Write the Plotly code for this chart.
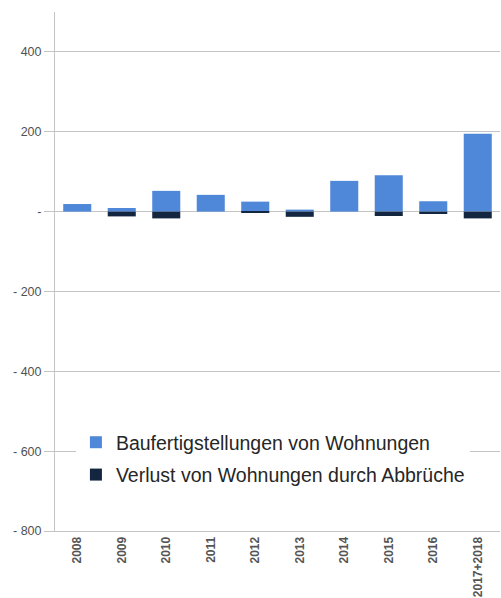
import plotly.graph_objects as go

# Jahre bzw. Zeiträume
jahre = ["2008", "2009", "2010", "2011", "2012", "2013", "2014", "2015", "2016", "2017+2018"]

# Baufertigstellungen von Wohnungen (Anzahl)
fertigstellungen = [19, 9, 52, 42, 25, 5, 77, 91, 26, 195]

# Verlust von Wohnungen durch Abbrüche (negativ dargestellt)
abbrueche = [0, -12, -17, 0, -3, -13, 0, -11, -6, -17]

# y-Achse
y_ticks = [-800, -600, -400, -200, 0, 200, 400]
y_ticktext = ["- 800", "- 600", "- 400", "- 200", "-", "200", "400"]
y_range = [-800, 500]

BLAU = "#4F88D8"
DUNKEL = "#13253F"
GRID = "#C4C4C4"
FONT = "Liberation Sans, Arial, sans-serif"

fig = go.Figure()
fig.add_trace(go.Bar(
    x=jahre, y=fertigstellungen, name="Baufertigstellungen von Wohnungen",
    marker=dict(color=BLAU, line=dict(width=0)), width=0.63, legendgroup="a",
))
fig.add_trace(go.Bar(
    x=jahre, y=abbrueche, name="Verlust von Wohnungen durch Abbrüche",
    marker=dict(color=DUNKEL, line=dict(width=0)), width=0.63, legendgroup="b",
))

# Teilstriche zwischen den Kategorien auf der Nulllinie
zero_pos = (0 - y_range[0]) / (y_range[1] - y_range[0])
boundaries = [i + 0.5 for i in range(len(jahre) - 1)]

fig.update_layout(
    width=501, height=598,
    margin=dict(l=55, r=1, t=12, b=67),
    paper_bgcolor="white", plot_bgcolor="white",
    barmode="relative",
    font=dict(family=FONT, color="#4A4A4A"),
    xaxis=dict(
        type="category", tickangle=-90,
        showgrid=False, showline=True, linecolor=GRID, linewidth=1,
        ticks="", tickfont=dict(size=12, color="#555555", weight="bold"),
        range=[-0.5, len(jahre) - 0.5], fixedrange=True,
    ),
    xaxis2=dict(
        overlaying="x", anchor="free", position=zero_pos, side="bottom",
        range=[-0.5, len(jahre) - 0.5], tickmode="array", tickvals=boundaries,
        ticks="outside", ticklen=3, tickcolor=GRID, showticklabels=False,
        showgrid=False, showline=False, zeroline=False,
    ),
    yaxis=dict(
        range=y_range, tickmode="array", tickvals=y_ticks, ticktext=y_ticktext,
        showgrid=True, gridcolor=GRID, gridwidth=1, zeroline=False,
        showline=True, linecolor=GRID, linewidth=1,
        ticks="outside", ticklen=10, tickcolor=GRID,
        tickfont=dict(size=12.5, color="#505050"),
    ),
    legend=dict(
        x=0.047, y=0.208, xanchor="left", yanchor="top",
        bgcolor="white", font=dict(size=19.5, color="#262626"),
        tracegroupgap=4, entrywidth=395, entrywidthmode="pixels",
        itemclick=False, itemdoubleclick=False,
    ),
    showlegend=True,
)

fig.write_html("out.html")
